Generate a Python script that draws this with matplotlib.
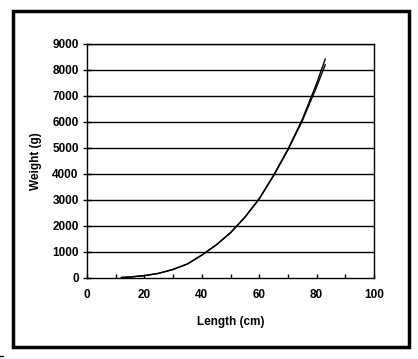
import matplotlib.pyplot as plt
from matplotlib.lines import Line2D
from matplotlib.patches import Rectangle

# length (cm) vs weight (g), two nearly identical fitted curves
length = [12, 15, 20, 25, 30, 35, 40, 45, 50, 55, 60, 65, 70, 75, 80, 83]
weight_a = [20, 40, 90, 180, 330, 540, 880, 1270, 1740, 2340, 3050, 3950, 4950, 6100, 7480, 8420]
weight_b = [20, 40, 90, 180, 330, 540, 880, 1270, 1740, 2330, 3040, 3930, 4920, 6040, 7350, 8200]

x_ticks = [0, 20, 40, 60, 80, 100]
y_ticks = list(range(0, 9001, 1000))

plt.rcParams['font.family'] = ['Liberation Sans', 'DejaVu Sans']
plt.rcParams['font.weight'] = 'bold'

fig = plt.figure(figsize=(4.18, 3.59), dpi=100)
fig.patch.set_facecolor('white')

W, H = 418, 359
ax = fig.add_axes([87 / W, 1 - 278 / H, (374 - 87) / W, (278 - 44) / H])

for yv in y_ticks[1:]:
    ax.axhline(yv, color='black', lw=1.0, zorder=1)

ax.plot(length, weight_a, color='black', lw=1.0, zorder=3)
ax.plot(length, weight_b, color='black', lw=1.0, zorder=3)

ax.set_xlim(0, 100)
ax.set_ylim(0, 9000)
ax.set_xticks(range(0, 101, 10))
ax.set_xticklabels(['' if v % 20 else str(v) for v in range(0, 101, 10)])
ax.set_yticks(y_ticks)
ax.tick_params(axis='x', direction='in', length=3, width=1, labelsize=8.5, pad=8)
ax.tick_params(axis='y', direction='inout', length=6, width=1, labelsize=8.5, pad=3)
for s in ax.spines.values():
    s.set_linewidth(1.0)
    s.set_color('black')

ax.set_xlabel('Length (cm)', fontsize=8.5, fontweight='bold', labelpad=11)
ax.set_ylabel('Weight (g)', fontsize=8.5, fontweight='bold', labelpad=7)

# outer chart frame
fig.patches.append(Rectangle((13 / W, 1 - 347 / H), (409 - 13) / W, (347 - 11) / H,
                             transform=fig.transFigure, fill=False,
                             edgecolor='black', lw=2.5))
# small stray mark at bottom-left corner
fig.lines.append(Line2D([0, 3 / W], [1 - 356 / H, 1 - 356 / H],
                        transform=fig.transFigure, color='black', lw=1))

fig.savefig('out.png', dpi=100)
